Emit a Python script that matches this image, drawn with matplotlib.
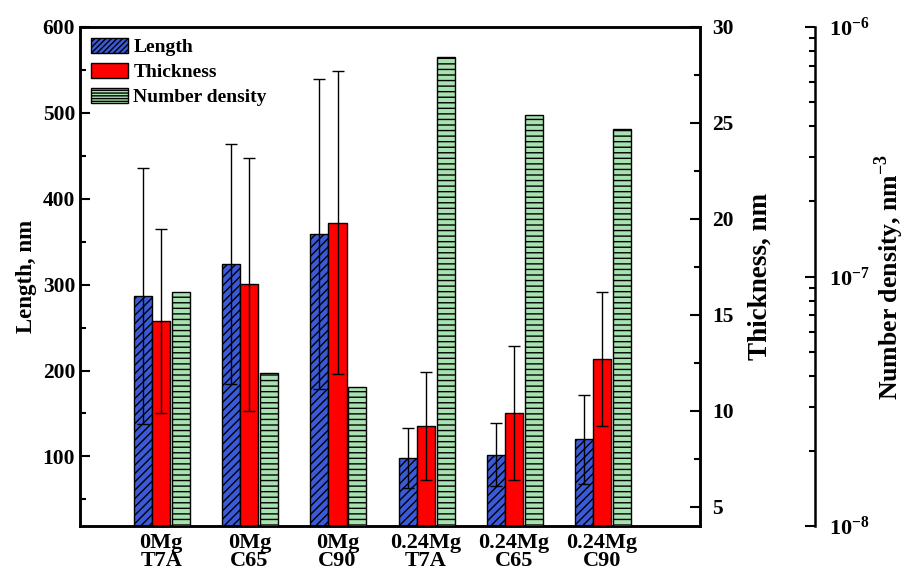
import numpy as np
import matplotlib
matplotlib.use('Agg')
import matplotlib.pyplot as plt
from matplotlib.patches import Patch
from matplotlib.ticker import MultipleLocator, LogLocator

plt.rcParams['font.family'] = ['Liberation Serif', 'DejaVu Serif']
plt.rcParams['font.weight'] = 'bold'
plt.rcParams['mathtext.fontset'] = 'custom'
plt.rcParams['mathtext.rm'] = 'Liberation Serif:bold'
plt.rcParams['mathtext.bf'] = 'Liberation Serif:bold'
plt.rcParams['hatch.linewidth'] = 1.0

# data
categories = ['0Mg\nT7A', '0Mg\nC65', '0Mg\nC90', '0.24Mg\nT7A', '0.24Mg\nC65', '0.24Mg\nC90']
length = [287, 324, 359, 98, 102, 120]
length_err = [149, 140, 180, 35, 37, 52]
thickness = [14.7, 16.6, 19.8, 9.2, 9.9, 12.7]
thickness_err = [4.8, 6.6, 7.9, 2.8, 3.5, 3.5]
density = [8.7e-8, 4.1e-8, 3.6e-8, 7.6e-7, 4.45e-7, 3.9e-7]

x = np.arange(len(categories))
w = 0.205
dens_base = 1e-8

fig = plt.figure(figsize=(9.1, 5.74), dpi=100)
ax = fig.add_axes([80/910, 1-526/574, 620/910, 499/574])
ax2 = ax.twinx()
ax3 = ax.twinx()
ax3.spines['right'].set_position(('axes', (815-80)/620))
for s in ['top', 'left', 'bottom']:
    ax3.spines[s].set_visible(False)

blue = '#3a5ad8'
red = '#ff0000'
green = '#a8e2b0'

ax.bar(x - w, length, w, color=blue, edgecolor='black', hatch='////', linewidth=1.0, zorder=2)
ax.errorbar(x - w, length, yerr=length_err, fmt='none', ecolor='black', elinewidth=1.0,
            capsize=4, capthick=1.0, zorder=3)
ax2.bar(x, thickness, w, color=red, edgecolor='black', linewidth=1.0, zorder=2)
ax2.errorbar(x, thickness, yerr=thickness_err, fmt='none', ecolor='black', elinewidth=1.0,
             capsize=4, capthick=1.0, zorder=3)
ax3.set_yscale('log')
ax3.bar(x + w + 0.02, np.array(density) - dens_base, w, bottom=dens_base, color=green,
        edgecolor='black', hatch='---', linewidth=1.0, zorder=2)

ax.set_xlim(-0.92, 6.11)
ax.set_ylim(19, 600)
ax2.set_ylim(4, 30)
ax3.set_ylim(1e-8, 1e-6)

ax.set_xticks(x)
ax.set_xticklabels(categories, fontsize=16, fontweight='bold', linespacing=0.85)
ax.tick_params(axis='x', length=0, pad=5)

ax.set_yticks([100, 200, 300, 400, 500, 600])
ax.yaxis.set_minor_locator(MultipleLocator(50))
ax2.set_yticks([5, 10, 15, 20, 25, 30])
ax2.yaxis.set_minor_locator(MultipleLocator(2.5))
ax3.yaxis.set_major_locator(LogLocator(base=10, numticks=5))
ax3.yaxis.set_minor_locator(LogLocator(base=10, subs=np.arange(2, 10), numticks=12))

for a in (ax, ax2, ax3):
    a.tick_params(axis='y', which='major', direction='in', length=7, width=1.5, labelsize=15.5)
    a.tick_params(axis='y', which='minor', direction='in', length=4, width=1.5)
    for s in a.spines.values():
        s.set_linewidth(1.8)
ax2.tick_params(axis='y', which='major', pad=9)
ax3.tick_params(axis='y', which='major', pad=10, labelsize=16)

ax.set_ylabel('Length, nm', fontsize=16.5, fontweight='bold', labelpad=4)
ax2.set_ylabel('Thickness, nm', fontsize=19.5, fontweight='bold', labelpad=10)
ax3.set_ylabel('Number density, nm$^{-3}$', fontsize=18.5, fontweight='bold', labelpad=2)

handles = [Patch(facecolor=blue, edgecolor='black', hatch='//////', label='Length'),
           Patch(facecolor=red, edgecolor='black', label='Thickness'),
           Patch(facecolor=green, edgecolor='black', hatch='------', label='Number density')]
ax3.legend(handles=handles, loc='upper left', bbox_to_anchor=(0.0, 1.0), frameon=False,
           fontsize=14, handlelength=1.9, handleheight=0.8, handletextpad=0.3,
           labelspacing=0.35, borderaxespad=0.15)

fig.savefig('out.png', dpi=100)
